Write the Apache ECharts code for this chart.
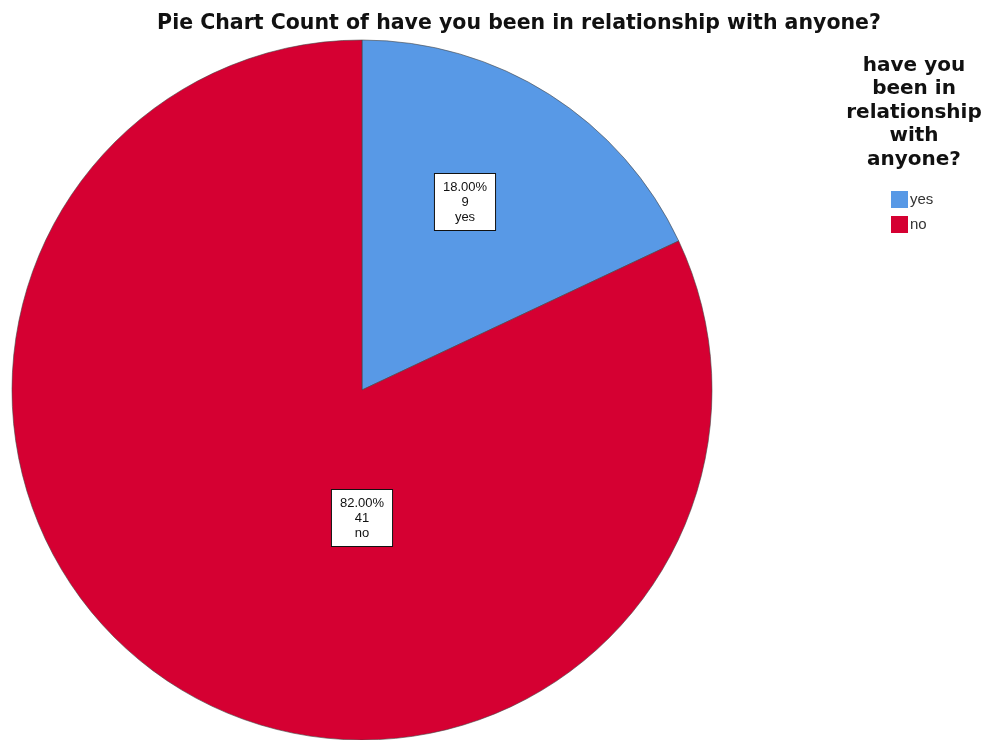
<!DOCTYPE html>
<html><head><meta charset="utf-8">
<script src="https://cdn.jsdelivr.net/npm/echarts@6/dist/echarts.min.js"></script>
<style>html,body{margin:0;padding:0;background:#fff}#c{width:985px;height:740px}</style>
</head><body><div id="c"></div>
<script>
var categories = ['yes', 'no'];
var counts = [9, 41];
var colors = ['#5899E6', '#D50032'];
var labelSpots = [[465, 202], [362, 518]];

var chart = echarts.init(document.getElementById('c'), null, {renderer: 'canvas'});
var FONT = '"Liberation Sans", Arial, sans-serif';
var BOLD = '"DejaVu Sans", "Liberation Sans", Arial, sans-serif';
chart.setOption({
  backgroundColor: '#fff',
  animation: false,
  title: [{
    text: 'Pie Chart Count of have you been in relationship with anyone?',
    left: 514, top: 8, textAlign: 'center',
    textStyle: {fontFamily: BOLD, fontSize: 20.5, fontWeight: 'bold', color: '#111'}
  }, {
    text: 'have you\nbeen in\nrelationship\nwith\nanyone?',
    left: 909, top: 49, textAlign: 'center',
    textStyle: {fontFamily: BOLD, fontSize: 20, fontWeight: 'bold', color: '#111', lineHeight: 23.5, align: 'center'}
  }],
  legend: {
    orient: 'vertical', left: 886, top: 186,
    itemWidth: 17, itemHeight: 17, itemGap: 8,
    icon: 'rect',
    itemStyle: {borderWidth: 0},
    data: categories,
    textStyle: {fontFamily: FONT, fontSize: 15, color: '#333', padding: [0,0,0,-3]}
  },
  series: [{
    type: 'pie',
    center: [362, 390],
    radius: 350,
    startAngle: 90,
    clockwise: true,
    avoidLabelOverlap: false,
    itemStyle: {borderColor: '#444', borderWidth: 0.6},
    emphasis: {disabled: true},
    data: categories.map(function (c, i) {
      return {name: c, value: counts[i], itemStyle: {color: colors[i]}};
    }),
    label: {
      show: true,
      position: 'inside',
      formatter: function (p) { return p.percent.toFixed(2) + '%\n' + p.value + '\n' + p.name; },
      fontFamily: FONT, fontSize: 13, lineHeight: 15, color: '#111',
      align: 'center',
      backgroundColor: '#fff', borderColor: '#111', borderWidth: 1,
      padding: [6, 8, 5, 8]
    },
    labelLine: {show: false},
    labelLayout: function (params) {
      var s = labelSpots[params.dataIndex];
      return {x: s[0], y: s[1], align: 'center', verticalAlign: 'middle'};
    }
  }]
});
</script>
</body></html>
